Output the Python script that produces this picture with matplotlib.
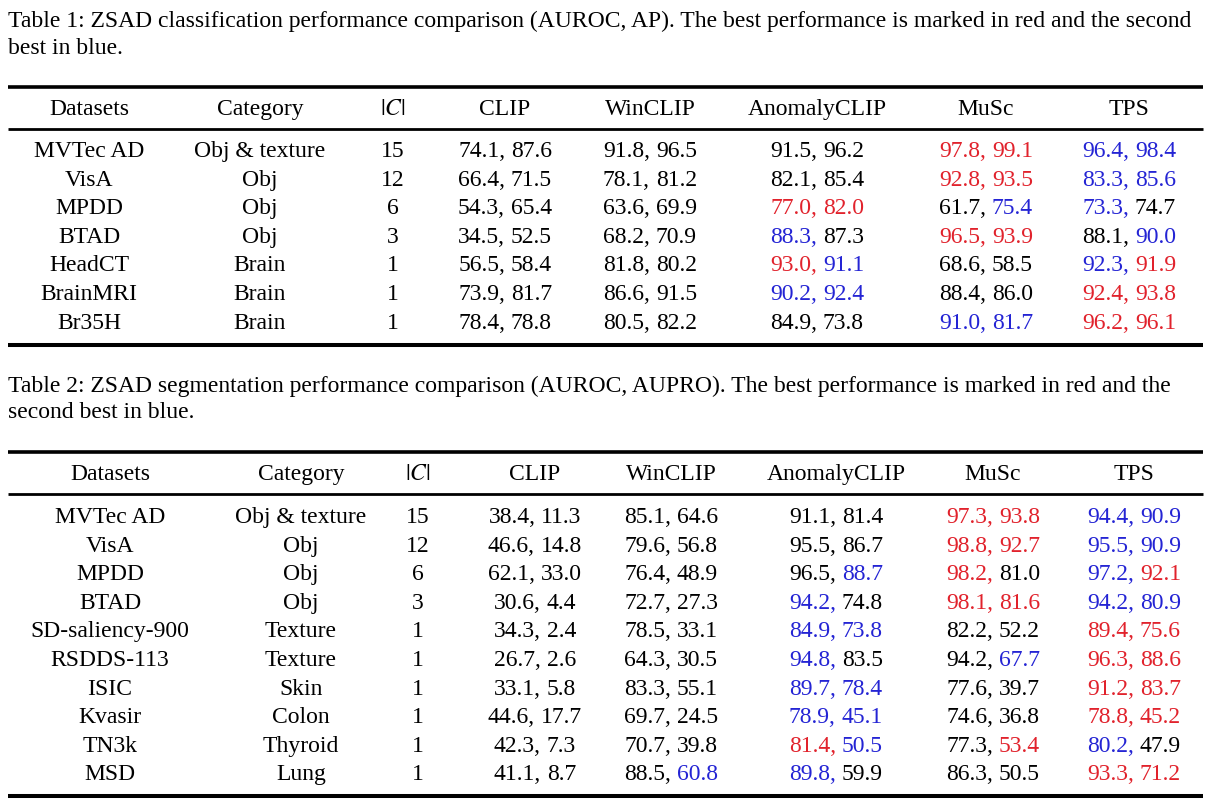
import matplotlib
matplotlib.use("Agg")
import matplotlib.pyplot as plt

plt.rcParams["font.family"] = ["Liberation Serif", "DejaVu Serif"]
plt.rcParams["mathtext.fontset"] = "stix"

RED = "#e1222c"
BLUE = "#2424d4"
COLORS = {"k": "black", "r": RED, "b": BLUE}
FS = 17

headers = ["Datasets", "Category", r"$\left|C\right|$", "CLIP", "WinCLIP", "AnomalyCLIP", "MuSc", "TPS"]
methods = ["CLIP", "WinCLIP", "AnomalyCLIP", "MuSc", "TPS"]

# ---- Table 1: classification (AUROC, AP)
cls_caption = [
    "Table 1: ZSAD classification performance comparison (AUROC, AP). The best performance is marked in red and the second",
    "best in blue.",
]
cls_datasets = ["MVTec AD", "VisA", "MPDD", "BTAD", "HeadCT", "BrainMRI", "Br35H"]
cls_category = ["Obj & texture", "Obj", "Obj", "Obj", "Brain", "Brain", "Brain"]
cls_nclass = [15, 12, 6, 3, 1, 1, 1]
cls_clip = [(74.1, 87.6), (66.4, 71.5), (54.3, 65.4), (34.5, 52.5), (56.5, 58.4), (73.9, 81.7), (78.4, 78.8)]
cls_winclip = [(91.8, 96.5), (78.1, 81.2), (63.6, 69.9), (68.2, 70.9), (81.8, 80.2), (86.6, 91.5), (80.5, 82.2)]
cls_anomalyclip = [(91.5, 96.2), (82.1, 85.4), (77.0, 82.0), (88.3, 87.3), (93.0, 91.1), (90.2, 92.4), (84.9, 73.8)]
cls_musc = [(97.8, 99.1), (92.8, 93.5), (61.7, 75.4), (96.5, 93.9), (68.6, 58.5), (88.4, 86.0), (91.0, 81.7)]
cls_tps = [(96.4, 98.4), (83.3, 85.6), (73.3, 74.7), (88.1, 90.0), (92.3, 91.9), (92.4, 93.8), (96.2, 96.1)]
# best (r) / second best (b) marks as printed in the table
cls_marks = {
    "CLIP": ["kk"] * 7,
    "WinCLIP": ["kk"] * 7,
    "AnomalyCLIP": ["kk", "kk", "rr", "bk", "rb", "bb", "kk"],
    "MuSc": ["rr", "rr", "kb", "rr", "kk", "kk", "bb"],
    "TPS": ["bb", "bb", "bk", "kb", "br", "rr", "rr"],
}

# ---- Table 2: segmentation (AUROC, AUPRO)
seg_caption = [
    "Table 2: ZSAD segmentation performance comparison (AUROC, AUPRO). The best performance is marked in red and the",
    "second best in blue.",
]
seg_datasets = ["MVTec AD", "VisA", "MPDD", "BTAD", "SD-saliency-900", "RSDDS-113", "ISIC", "Kvasir", "TN3k", "MSD"]
seg_category = ["Obj & texture", "Obj", "Obj", "Obj", "Texture", "Texture", "Skin", "Colon", "Thyroid", "Lung"]
seg_nclass = [15, 12, 6, 3, 1, 1, 1, 1, 1, 1]
seg_clip = [(38.4, 11.3), (46.6, 14.8), (62.1, 33.0), (30.6, 4.4), (34.3, 2.4),
            (26.7, 2.6), (33.1, 5.8), (44.6, 17.7), (42.3, 7.3), (41.1, 8.7)]
seg_winclip = [(85.1, 64.6), (79.6, 56.8), (76.4, 48.9), (72.7, 27.3), (78.5, 33.1),
               (64.3, 30.5), (83.3, 55.1), (69.7, 24.5), (70.7, 39.8), (88.5, 60.8)]
seg_anomalyclip = [(91.1, 81.4), (95.5, 86.7), (96.5, 88.7), (94.2, 74.8), (84.9, 73.8),
                   (94.8, 83.5), (89.7, 78.4), (78.9, 45.1), (81.4, 50.5), (89.8, 59.9)]
seg_musc = [(97.3, 93.8), (98.8, 92.7), (98.2, 81.0), (98.1, 81.6), (82.2, 52.2),
            (94.2, 67.7), (77.6, 39.7), (74.6, 36.8), (77.3, 53.4), (86.3, 50.5)]
seg_tps = [(94.4, 90.9), (95.5, 90.9), (97.2, 92.1), (94.2, 80.9), (89.4, 75.6),
           (96.3, 88.6), (91.2, 83.7), (78.8, 45.2), (80.2, 47.9), (93.3, 71.2)]
seg_marks = {
    "CLIP": ["kk"] * 10,
    "WinCLIP": ["kk"] * 9 + ["kb"],
    "AnomalyCLIP": ["kk", "kk", "kb", "bk", "bb", "bk", "bb", "bb", "rb", "bk"],
    "MuSc": ["rr", "rr", "rk", "rr", "kk", "kb", "kk", "kk", "kr", "kk"],
    "TPS": ["bb", "bb", "br", "bb", "rr", "rr", "rr", "rr", "bk", "rr"],
}

fig = plt.figure(figsize=(12.19, 8.06), dpi=100)
ax = fig.add_axes([0, 0, 1, 1])
ax.set_xlim(0, 1219)
ax.set_ylim(806, 0)
ax.axis("off")
renderer = fig.canvas.get_renderer()


def draw_pair(x, y, pair, marks):
    a, b = f"{pair[0]:.1f}", f"{pair[1]:.1f}"
    # measure the whole cell, then put the two words at its ends
    probe = ax.text(0, y, f"{a}, {b}", fontsize=FS, ha="left", va="baseline")
    w = probe.get_window_extent(renderer).width
    probe.remove()
    ax.text(x - w / 2, y, a + ",", color=COLORS[marks[0]], fontsize=FS, ha="left", va="baseline")
    ax.text(x + w / 2, y, b, color=COLORS[marks[1]], fontsize=FS, ha="right", va="baseline")


def rule(y, lw):
    ax.plot([8, 1203], [y, y], color="black", lw=lw, solid_capstyle="butt")


def draw_table(caption, cap_y, col_x, rules_y, header_y, row_y0, row_step,
               datasets, category, nclass, scores, marks):
    for line, y in zip(caption, cap_y):
        ax.text(8, y, line, fontsize=FS, ha="left", va="baseline")
    rule(rules_y[0], 2.6)
    rule(rules_y[1], 2.0)
    rule(rules_y[2], 2.9)
    for h, x in zip(headers, col_x):
        ax.text(x, header_y, h, fontsize=FS, ha="center", va="baseline")
    for i in range(len(datasets)):
        y = row_y0 + i * row_step
        ax.text(col_x[0], y, datasets[i], fontsize=FS, ha="center", va="baseline")
        ax.text(col_x[1], y, category[i], fontsize=FS, ha="center", va="baseline")
        ax.text(col_x[2], y, str(nclass[i]), fontsize=FS, ha="center", va="baseline")
        for j, m in enumerate(methods):
            draw_pair(col_x[3 + j], y, scores[m][i], marks[m][i])


cls_scores = {"CLIP": cls_clip, "WinCLIP": cls_winclip, "AnomalyCLIP": cls_anomalyclip,
              "MuSc": cls_musc, "TPS": cls_tps}
seg_scores = {"CLIP": seg_clip, "WinCLIP": seg_winclip, "AnomalyCLIP": seg_anomalyclip,
              "MuSc": seg_musc, "TPS": seg_tps}

draw_table(cls_caption, [27, 54], [89, 260, 393, 505, 650, 817, 986, 1129],
           [87, 129, 344.5], 115, 157, 28.6,
           cls_datasets, cls_category, cls_nclass, cls_scores, cls_marks)

draw_table(seg_caption, [392, 418], [110, 301, 418, 535, 671, 836, 993, 1134],
           [452, 494, 795.5], 480, 523, 28.6,
           seg_datasets, seg_category, seg_nclass, seg_scores, seg_marks)

fig.savefig("out.png", dpi=100, facecolor="white")
